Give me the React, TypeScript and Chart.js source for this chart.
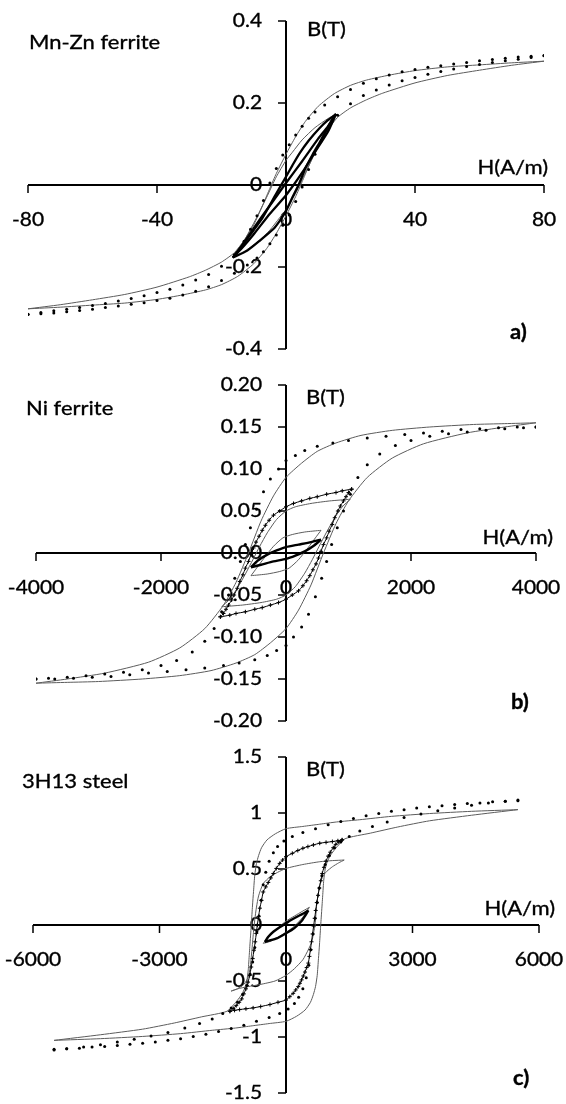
import React, { useEffect, useRef } from 'react';
import { Chart, registerables } from 'chart.js';

Chart.register(...registerables);

type P = [number, number];

// ---------------- Panel a: Mn-Zn ferrite ----------------
const aTitle = 'Mn-Zn ferrite';
const aLetter = 'a)';
const aXTickLabels = ['-80', '-40', '0', '40', '80'];
const aYTickLabels = ['0.4', '0.2', '0', '-0.2', '-0.4'];

const aModelDesc: P[] = [[80,0.302],[70,0.298],[60,0.293],[50,0.288],[40,0.279],[32,0.268],[25,0.256],[20,0.243],[15,0.223],[10,0.192],[6,0.155],[3,0.118],[0,0.075],[-3,0.028],[-5,-0.008],[-7,-0.045],[-10,-0.097],[-13,-0.135],[-16,-0.165],[-20,-0.188],[-25,-0.208],[-30,-0.224],[-40,-0.249],[-50,-0.267],[-60,-0.28],[-70,-0.292],[-80,-0.302]];
const aModelAsc: P[] = [[-80,-0.302],[-70,-0.298],[-60,-0.293],[-50,-0.288],[-40,-0.279],[-32,-0.268],[-25,-0.256],[-20,-0.243],[-15,-0.223],[-10,-0.192],[-6,-0.155],[-3,-0.118],[0,-0.075],[3,-0.028],[5,0.008],[7,0.045],[10,0.097],[13,0.135],[16,0.165],[20,0.188],[25,0.208],[30,0.224],[40,0.249],[50,0.267],[60,0.28],[70,0.292],[80,0.302]];
const aMeasDesc: P[] = [[80,0.316],[76,0.314],[72,0.312],[68,0.309],[64,0.306],[60,0.303],[56,0.299],[52,0.295],[48,0.291],[44,0.287],[40,0.282],[36,0.276],[32,0.268],[28,0.259],[24,0.248],[20,0.233],[16,0.215],[12,0.195],[9,0.178],[7,0.163],[5,0.143],[3,0.122],[1,0.098],[-1,0.073],[-3,0.04],[-5,0.005],[-7,-0.038],[-9,-0.075],[-11,-0.108],[-13,-0.137],[-16,-0.17],[-20,-0.198],[-24,-0.218],[-28,-0.232],[-32,-0.244],[-36,-0.254],[-40,-0.262],[-44,-0.27],[-48,-0.277],[-52,-0.283],[-56,-0.289],[-60,-0.294],[-64,-0.299],[-68,-0.303],[-72,-0.307],[-76,-0.311],[-80,-0.315]];
const aMeasAsc: P[] = [[-80,-0.316],[-76,-0.314],[-72,-0.312],[-68,-0.309],[-64,-0.306],[-60,-0.303],[-56,-0.299],[-52,-0.295],[-48,-0.291],[-44,-0.287],[-40,-0.282],[-36,-0.276],[-32,-0.268],[-28,-0.259],[-24,-0.248],[-20,-0.233],[-16,-0.215],[-12,-0.195],[-9,-0.178],[-7,-0.163],[-5,-0.143],[-3,-0.122],[-1,-0.098],[1,-0.073],[3,-0.04],[5,-0.005],[7,0.038],[9,0.075],[11,0.108],[13,0.137],[16,0.17],[20,0.198],[24,0.218],[28,0.232],[32,0.244],[36,0.254],[40,0.262],[44,0.27],[48,0.277],[52,0.283],[56,0.289],[60,0.294],[64,0.299],[68,0.303],[72,0.307],[76,0.311],[80,0.315]];
// measured minor loops (dense markers forming a dark band)
const aMinorWideAsc: P[] = [[-16.5,-0.177],[-12,-0.16],[-8,-0.135],[-4,-0.108],[-2,-0.088],[0,-0.063],[2,-0.03],[4,0.002],[6,0.04],[8.3,0.075],[10.5,0.105],[12.4,0.132],[14,0.155],[15.5,0.173]];
const aMinorWideDesc: P[] = [[15.5,0.173],[13,0.158],[10.3,0.138],[7,0.108],[4.1,0.076],[2,0.048],[0,0.02],[-3.1,-0.022],[-7.2,-0.079],[-10,-0.11],[-12.4,-0.136],[-14.5,-0.158],[-16.5,-0.177]];
const aMinorNarrowAsc: P[] = [[-16.5,-0.177],[-13,-0.148],[-10,-0.12],[-5,-0.07],[0,-0.025],[5,0.03],[10,0.093],[13,0.13],[15.5,0.173]];
const aMinorNarrowDesc: P[] = [[15.5,0.173],[13,0.143],[10,0.113],[5,0.058],[0,0.005],[-5,-0.05],[-10,-0.105],[-13,-0.14],[-16.5,-0.177]];
const aMinorModelAsc: P[] = [[-16.5,-0.175],[-13,-0.162],[-9,-0.14],[-5,-0.11],[-2,-0.08],[0,-0.06],[3,-0.02],[6,0.03],[9,0.078],[12,0.122],[14,0.15],[15.5,0.173]];
const aMinorModelDesc: P[] = [[15.5,0.173],[13,0.162],[9,0.14],[5,0.11],[2,0.08],[0,0.06],[-3,0.02],[-6,-0.03],[-9,-0.078],[-12,-0.122],[-14,-0.15],[-16.5,-0.175]];

// ---------------- Panel b: Ni ferrite ----------------
const bTitle = 'Ni ferrite';
const bLetter = 'b)';
const bXTickLabels = ['-4000', '-2000', '0', '2000', '4000'];
const bYTickLabels = ['0.20', '0.15', '0.10', '0.05', '0.00', '-0.05', '-0.10', '-0.15', '-0.20'];

const bModelDesc: P[] = [[4000,0.155],[3500,0.154],[3000,0.153],[2300,0.15],[1700,0.146],[1200,0.14],[800,0.131],[500,0.121],[250,0.107],[0,0.09],[-200,0.068],[-400,0.038],[-600,0.0],[-800,-0.035],[-1000,-0.062],[-1300,-0.09],[-1700,-0.113],[-2200,-0.13],[-2900,-0.143],[-3500,-0.15],[-4000,-0.155]];
const bModelAsc: P[] = [[-4000,-0.155],[-3500,-0.154],[-3000,-0.153],[-2300,-0.15],[-1700,-0.146],[-1200,-0.14],[-800,-0.131],[-500,-0.121],[-250,-0.107],[0,-0.09],[200,-0.068],[400,-0.038],[600,0.0],[800,0.035],[1000,0.062],[1300,0.09],[1700,0.113],[2200,0.13],[2900,0.143],[3500,0.15],[4000,0.155]];
const bMeasDesc: P[] = [[4000,0.150],[3700,0.150],[3400,0.149],[3100,0.148],[2800,0.147],[2500,0.145],[2200,0.143],[1900,0.141],[1600,0.139],[1300,0.137],[1000,0.134],[750,0.131],[500,0.127],[300,0.122],[150,0.116],[0,0.110],[-120,0.100],[-250,0.088],[-360,0.073],[-470,0.052],[-570,0.030],[-650,0.010],[-730,-0.010],[-820,-0.030],[-920,-0.050],[-1030,-0.070],[-1150,-0.090],[-1300,-0.105],[-1500,-0.118],[-1750,-0.128],[-2000,-0.134],[-2300,-0.139],[-2600,-0.142],[-2900,-0.144],[-3200,-0.146],[-3500,-0.148],[-3800,-0.149],[-4000,-0.150]];
const bMeasAsc: P[] = [[-4000,-0.150],[-3700,-0.150],[-3400,-0.149],[-3100,-0.148],[-2800,-0.147],[-2500,-0.145],[-2200,-0.143],[-1900,-0.141],[-1600,-0.139],[-1300,-0.137],[-1000,-0.134],[-750,-0.131],[-500,-0.127],[-300,-0.122],[-150,-0.116],[0,-0.110],[120,-0.100],[250,-0.088],[360,-0.073],[470,-0.052],[570,-0.030],[650,-0.010],[730,0.010],[820,0.030],[920,0.050],[1030,0.070],[1150,0.090],[1300,0.105],[1500,0.118],[1750,0.128],[2000,0.134],[2300,0.139],[2600,0.142],[2900,0.144],[3200,0.146],[3500,0.148],[3800,0.149],[4000,0.150]];
const bMinorMeasDesc: P[] = [[1050,0.076],[900,0.074],[800,0.072],[650,0.07],[500,0.067],[380,0.065],[250,0.062],[120,0.059],[0,0.055],[-100,0.05],[-200,0.045],[-270,0.039],[-330,0.033],[-380,0.027],[-430,0.02],[-480,0.013],[-520,0.006],[-560,-0.002],[-600,-0.01],[-650,-0.018],[-690,-0.026],[-740,-0.034],[-780,-0.042],[-830,-0.05],[-870,-0.056],[-920,-0.062],[-960,-0.067],[-1000,-0.072],[-1050,-0.076]];
const bMinorMeasAsc: P[] = [[-1050,-0.076],[-900,-0.074],[-800,-0.072],[-650,-0.07],[-500,-0.067],[-380,-0.065],[-250,-0.062],[-120,-0.059],[0,-0.055],[100,-0.05],[200,-0.045],[270,-0.039],[330,-0.033],[380,-0.027],[430,-0.02],[480,-0.013],[520,-0.006],[560,0.002],[600,0.01],[650,0.018],[690,0.026],[740,0.034],[780,0.042],[830,0.05],[870,0.056],[920,0.062],[960,0.067],[1000,0.072],[1050,0.076]];
const bMinorModelAsc: P[] = [[-1030,-0.064],[-700,-0.062],[-400,-0.059],[-150,-0.055],[0,-0.05],[150,-0.04],[300,-0.024],[420,-0.008],[530,0.008],[650,0.025],[780,0.042],[900,0.055],[1030,0.064]];
const bMinorModelDesc: P[] = [[1030,0.064],[700,0.062],[400,0.059],[150,0.055],[0,0.05],[-150,0.04],[-300,0.024],[-420,0.008],[-530,-0.008],[-650,-0.025],[-780,-0.042],[-900,-0.055],[-1030,-0.064]];
const bSmallMeasAsc: P[] = [[-560,-0.017],[-400,-0.014],[-200,-0.01],[0,-0.007],[150,-0.003],[300,0.002],[450,0.009],[560,0.016]];
const bSmallMeasDesc: P[] = [[560,0.016],[400,0.013],[200,0.01],[0,0.007],[-150,0.003],[-300,-0.002],[-450,-0.009],[-560,-0.017]];
const bSmallModelAsc: P[] = [[-560,-0.027],[-300,-0.025],[-100,-0.022],[50,-0.018],[200,-0.008],[350,0.006],[470,0.018],[560,0.027]];
const bSmallModelDesc: P[] = [[560,0.027],[300,0.025],[100,0.022],[-50,0.018],[-200,0.008],[-350,-0.006],[-470,-0.018],[-560,-0.027]];

// ---------------- Panel c: 3H13 steel ----------------
const cTitle = '3H13 steel';
const cLetter = 'c)';
const cXTickLabels = ['-6000', '-3000', '0', '3000', '6000'];
const cYTickLabels = ['1.5', '1', '0.5', '0', '-0.5', '-1', '-1.5'];

const cModelDesc: P[] = [[5500,1.03],[4400,1.015],[3400,0.995],[2500,0.97],[1750,0.94],[1200,0.92],[800,0.9],[400,0.88],[0,0.86],[-250,0.815],[-450,0.76],[-580,0.69],[-650,0.62],[-700,0.55],[-740,0.45],[-770,0.3],[-795,0.17],[-820,0.02],[-845,-0.12],[-870,-0.26],[-895,-0.4],[-930,-0.5],[-975,-0.56],[-1050,-0.62],[-1170,-0.68],[-1400,-0.77],[-2000,-0.82],[-2650,-0.875],[-3400,-0.93],[-4400,-0.98],[-5500,-1.03]];
const cModelAsc: P[] = [[-5500,-1.03],[-4400,-1.015],[-3400,-0.995],[-2500,-0.97],[-1750,-0.94],[-1200,-0.92],[-800,-0.9],[-400,-0.88],[0,-0.86],[250,-0.815],[450,-0.76],[580,-0.69],[650,-0.62],[700,-0.55],[740,-0.45],[770,-0.3],[795,-0.17],[820,-0.02],[845,0.12],[870,0.26],[895,0.4],[930,0.5],[975,0.56],[1050,0.62],[1170,0.68],[1400,0.77],[2000,0.82],[2650,0.875],[3400,0.93],[4400,0.98],[5500,1.03]];
const cMinorModelDesc: P[] = [[1380,0.58],[1100,0.575],[800,0.565],[400,0.54],[0,0.505],[-200,0.47],[-380,0.43],[-540,0.37],[-650,0.26],[-700,0.16],[-740,0.05],[-780,-0.1],[-815,-0.25],[-850,-0.38],[-900,-0.47],[-1000,-0.53],[-1150,-0.57],[-1300,-0.59]];
const cMinorModelAsc: P[] = [[-1300,-0.59],[-1150,-0.57],[-900,-0.55],[-600,-0.53],[-260,-0.5],[0,-0.45],[200,-0.39],[400,-0.31],[530,-0.22],[610,-0.15],[660,-0.06],[690,0.0],[710,0.1],[730,0.19],[770,0.29],[810,0.37],[880,0.44],[970,0.48],[1100,0.52],[1250,0.555],[1380,0.58]];
const cMeasDesc: P[] = [[5500,1.11],[5200,1.105],[4900,1.1],[4600,1.09],[4300,1.085],[4000,1.075],[3700,1.065],[3400,1.055],[3100,1.045],[2800,1.03],[2500,1.015],[2200,0.995],[1900,0.975],[1600,0.95],[1300,0.925],[1000,0.895],[700,0.86],[400,0.825],[150,0.79],[-50,0.75],[-200,0.7],[-300,0.645],[-400,0.57],[-480,0.47],[-540,0.36],[-590,0.22],[-640,0.08],[-690,-0.06],[-740,-0.2],[-790,-0.33],[-850,-0.44],[-930,-0.54],[-1030,-0.62],[-1150,-0.69],[-1300,-0.74],[-1500,-0.79],[-1750,-0.84],[-2050,-0.88],[-2400,-0.92],[-2800,-0.96],[-3200,-0.99],[-3600,-1.02],[-4000,-1.045],[-4400,-1.07],[-4800,-1.09],[-5200,-1.105],[-5500,-1.115]];
const cMeasAsc: P[] = [[-5500,-1.11],[-5200,-1.105],[-4900,-1.1],[-4600,-1.09],[-4300,-1.085],[-4000,-1.075],[-3700,-1.065],[-3400,-1.055],[-3100,-1.045],[-2800,-1.03],[-2500,-1.015],[-2200,-0.995],[-1900,-0.975],[-1600,-0.95],[-1300,-0.925],[-1000,-0.895],[-700,-0.86],[-400,-0.825],[-150,-0.79],[50,-0.75],[200,-0.7],[300,-0.645],[400,-0.57],[480,-0.47],[540,-0.36],[590,-0.22],[640,-0.08],[690,0.06],[740,0.2],[790,0.33],[850,0.44],[930,0.54],[1030,0.62],[1150,0.69],[1300,0.74],[1500,0.79],[1750,0.84],[2050,0.88],[2400,0.92],[2800,0.96],[3200,0.99],[3600,1.02],[4000,1.045],[4400,1.07],[4800,1.09],[5200,1.105],[5500,1.115]];
const cMinorMeasDesc: P[] = [[1330,0.76],[1230,0.752],[1100,0.745],[950,0.738],[800,0.73],[650,0.715],[520,0.7],[400,0.685],[280,0.665],[150,0.64],[0,0.61],[-80,0.58],[-150,0.55],[-230,0.505],[-300,0.46],[-360,0.42],[-420,0.38],[-480,0.34],[-540,0.295],[-580,0.22],[-620,0.15],[-650,0.075],[-680,0.0],[-705,-0.075],[-730,-0.15],[-760,-0.225],[-790,-0.3],[-825,-0.375],[-860,-0.45],[-900,-0.51],[-950,-0.57],[-1000,-0.615],[-1050,-0.66],[-1110,-0.69],[-1180,-0.72],[-1250,-0.745],[-1330,-0.77]];
const cMinorMeasAsc: P[] = [[-1330,-0.77],[-1220,-0.762],[-1100,-0.755],[-950,-0.748],[-780,-0.74],[-600,-0.728],[-380,-0.71],[-190,-0.69],[0,-0.67],[90,-0.64],[170,-0.61],[230,-0.58],[290,-0.55],[330,-0.52],[370,-0.49],[410,-0.455],[450,-0.42],[490,-0.38],[530,-0.34],[555,-0.28],[580,-0.22],[605,-0.15],[630,-0.08],[655,-0.01],[680,0.06],[705,0.13],[730,0.2],[760,0.265],[790,0.33],[825,0.395],[860,0.46],[900,0.515],[950,0.57],[1000,0.615],[1050,0.65],[1120,0.69],[1180,0.72],[1250,0.742],[1330,0.76]];
const cSmallMeasDesc: P[] = [[530,0.13],[400,0.1],[250,0.072],[100,0.04],[0,0.015],[-150,-0.02],[-300,-0.06],[-420,-0.105],[-500,-0.15]];
const cSmallMeasAsc: P[] = [[-500,-0.15],[-400,-0.14],[-220,-0.12],[0,-0.074],[150,-0.04],[250,-0.009],[380,0.04],[460,0.085],[530,0.13]];
const cSmallModelDesc: P[] = [[555,0.158],[400,0.125],[200,0.08],[0,0.035],[-200,-0.03],[-400,-0.1],[-538,-0.164]];
const cSmallModelAsc: P[] = [[-538,-0.164],[-400,-0.15],[-200,-0.11],[0,-0.065],[200,-0.01],[400,0.07],[555,0.158]];

// ---------------- styles & helpers ----------------
const FONT = 'Lato, "Open Sans", sans-serif';
const SX = 1.1;

const pts = (a: P[]) => a.map(([x, y]) => ({ x, y }));

const modelDs = (a: P[]) => ({
  data: pts(a), showLine: true, borderColor: '#5c5c5c', borderWidth: 1, pointRadius: 0, tension: 0.2, order: 3,
});
const dotsDs = (a: P[]) => ({
  data: pts(a), showLine: false, pointRadius: 1.5, pointStyle: 'circle', backgroundColor: '#000', borderColor: '#000', borderWidth: 0, order: 2,
});
const crossDs = (a: P[]) => ({
  data: pts(a), showLine: true, borderColor: '#000', borderWidth: 1, tension: 0.2, pointStyle: 'cross', pointRadius: 2, pointBorderColor: '#000', pointBorderWidth: 1, order: 1,
});
const thickDs = (a: P[], w = 2.4) => ({
  data: pts(a), showLine: true, borderColor: '#000', borderWidth: w, pointRadius: 0, tension: 0.2, order: 0,
});

function drawText(ctx: CanvasRenderingContext2D, text: string, x: number, y: number, align: CanvasTextAlign, font: string) {
  ctx.save();
  ctx.font = font;
  ctx.fillStyle = '#000';
  ctx.strokeStyle = '#000';
  ctx.lineWidth = 0.35;
  ctx.textBaseline = 'middle';
  ctx.textAlign = align;
  ctx.translate(x, y);
  ctx.scale(SX, 1);
  ctx.fillText(text, 0, 0);
  ctx.strokeText(text, 0, 0);
  ctx.restore();
}

type PanelCfg = {
  xMin: number; xMax: number; yMin: number; yMax: number;
  xTicks: string[]; yTicks: string[];
  title: string; letter: string;
  padding: { left: number; right: number; top: number; bottom: number };
  titlePos: [number, number]; bPos: [number, number]; hPos: [number, number]; letterPos: [number, number];
  datasets: any[];
};

const H = 368;

const panels: PanelCfg[] = [
  {
    xMin: -80, xMax: 80, yMin: -0.4, yMax: 0.4, xTicks: aXTickLabels, yTicks: aYTickLabels,
    title: aTitle, letter: aLetter,
    padding: { left: 28, right: 22, top: 21, bottom: 19 },
    titlePos: [29, 43], bPos: [307, 30], hPos: [548, 168], letterPos: [510, 333],
    datasets: [
      modelDs(aModelDesc), modelDs(aModelAsc), modelDs(aMinorModelAsc), modelDs(aMinorModelDesc),
      dotsDs(aMeasDesc), dotsDs(aMeasAsc),
      thickDs(aMinorWideAsc, 2.3), thickDs(aMinorWideDesc, 2.3),
      thickDs(aMinorNarrowAsc, 2.3), thickDs(aMinorNarrowDesc, 2.3),
    ],
  },
  {
    xMin: -4000, xMax: 4000, yMin: -0.2, yMax: 0.2, xTicks: bXTickLabels, yTicks: bYTickLabels,
    title: bTitle, letter: bLetter,
    padding: { left: 36, right: 30, top: 17, bottom: 15 },
    titlePos: [26, 41], bPos: [306, 30], hPos: [553, 170], letterPos: [511, 335],
    datasets: [
      modelDs(bModelDesc), modelDs(bModelAsc), modelDs(bMinorModelAsc), modelDs(bMinorModelDesc),
      modelDs(bSmallModelAsc), modelDs(bSmallModelDesc),
      dotsDs(bMeasDesc), dotsDs(bMeasAsc),
      crossDs(bMinorMeasDesc), crossDs(bMinorMeasAsc),
      thickDs(bSmallMeasAsc), thickDs(bSmallMeasDesc),
    ],
  },
  {
    xMin: -6000, xMax: 6000, yMin: -1.5, yMax: 1.5, xTicks: cXTickLabels, yTicks: cYTickLabels,
    title: cTitle, letter: cLetter,
    padding: { left: 33, right: 27, top: 21, bottom: 11 },
    titlePos: [22, 46], bPos: [306, 34], hPos: [555, 173], letterPos: [513, 343],
    datasets: [
      modelDs(cModelDesc), modelDs(cModelAsc), modelDs(cMinorModelDesc), modelDs(cMinorModelAsc),
      modelDs(cSmallModelAsc), modelDs(cSmallModelDesc),
      dotsDs(cMeasDesc), dotsDs(cMeasAsc),
      crossDs(cMinorMeasDesc), crossDs(cMinorMeasAsc),
      thickDs(cSmallMeasAsc), thickDs(cSmallMeasDesc),
    ],
  },
];

function Panel({ cfg }: { cfg: PanelCfg }) {
  const ref = useRef<HTMLCanvasElement>(null);
  useEffect(() => {
    const axesPlugin = {
      id: 'crossAxes',
      beforeDatasetsDraw(chart: any) {
        const { ctx, chartArea } = chart;
        const xs = chart.scales.x;
        const ys = chart.scales.y;
        const x0 = xs.getPixelForValue(0);
        const y0 = ys.getPixelForValue(0);
        ctx.save();
        ctx.strokeStyle = '#000';
        ctx.lineWidth = 2;
        ctx.beginPath();
        ctx.moveTo(chartArea.left, y0);
        ctx.lineTo(chartArea.right, y0);
        ctx.stroke();
        ctx.beginPath();
        ctx.moveTo(x0, chartArea.top);
        ctx.lineTo(x0, chartArea.bottom);
        ctx.stroke();
        ctx.lineWidth = 1.5;
        const tickFont = `19px ${FONT}`;
        cfg.xTicks.forEach((lab) => {
          const v = parseFloat(lab);
          const px = xs.getPixelForValue(v);
          if (v !== 0) {
            ctx.beginPath();
            ctx.moveTo(px, y0);
            ctx.lineTo(px, y0 + 8);
            ctx.stroke();
          }
          drawText(ctx, lab, px, y0 + 35, 'center', tickFont);
        });
        cfg.yTicks.forEach((lab) => {
          const v = parseFloat(lab);
          const py = ys.getPixelForValue(v);
          ctx.beginPath();
          ctx.moveTo(x0 - 8, py);
          ctx.lineTo(x0, py);
          ctx.stroke();
          drawText(ctx, lab, x0 - 24, py, 'right', tickFont);
        });
        const labFont = `20px ${FONT}`;
        drawText(ctx, cfg.title, cfg.titlePos[0], cfg.titlePos[1], 'left', labFont);
        drawText(ctx, 'B(T)', cfg.bPos[0], cfg.bPos[1], 'left', labFont);
        drawText(ctx, 'H(A/m)', cfg.hPos[0], cfg.hPos[1], 'right', labFont);
        drawText(ctx, cfg.letter, cfg.letterPos[0], cfg.letterPos[1], 'left', `bold 20px ${FONT}`);
        ctx.restore();
      },
    };
    const chart = new Chart(ref.current as HTMLCanvasElement, {
      type: 'scatter',
      data: { datasets: cfg.datasets },
      options: {
        animation: false,
        responsive: false,
        maintainAspectRatio: false,
        devicePixelRatio: 1,
        layout: { padding: cfg.padding },
        scales: {
          x: { type: 'linear', min: cfg.xMin, max: cfg.xMax, display: false },
          y: { type: 'linear', min: cfg.yMin, max: cfg.yMax, display: false },
        },
        plugins: { legend: { display: false }, tooltip: { enabled: false } },
      },
      plugins: [axesPlugin],
    } as any);
    return () => chart.destroy();
  }, [cfg]);
  return <canvas ref={ref} width={566} height={H} style={{ display: 'block', width: 566, height: H }} />;
}

export default function App() {
  return (
    <div style={{ position: 'absolute', left: 0, top: 0, width: 566, height: 1104, background: '#fff' }}>
      {panels.map((p, i) => (
        <Panel key={i} cfg={p} />
      ))}
    </div>
  );
}
